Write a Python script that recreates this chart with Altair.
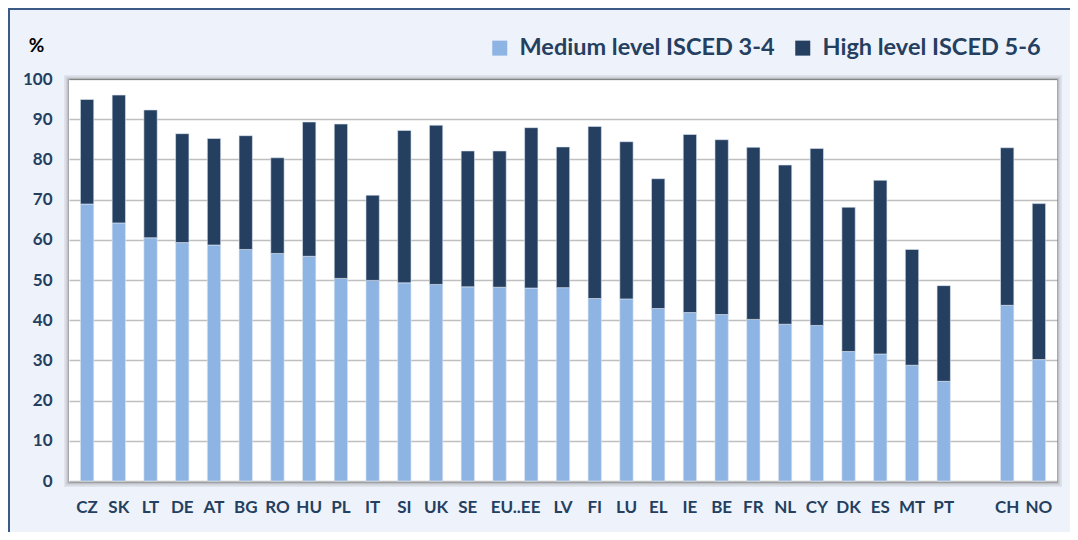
import altair as alt
import pandas as pd

countries = ["CZ", "SK", "LT", "DE", "AT", "BG", "RO", "HU", "PL", "IT", "SI", "UK", "SE",
             "EU", "EE", "LV", "FI", "LU", "EL", "IE", "BE", "FR", "NL", "CY", "DK", "ES",
             "MT", "PT", "CH", "NO"]
tick_labels = ["CZ", "SK", "LT", "DE", "AT", "BG", "RO", "HU", "PL", "IT", "SI", "UK", "SE",
               "EU..EE", "", "LV", "FI", "LU", "EL", "IE", "BE", "FR", "NL", "CY", "DK", "ES",
               "MT", "PT", "CH", "NO"]
medium = [68.9, 64.2, 60.5, 59.3, 58.7, 57.6, 56.6, 55.9, 50.4, 49.9, 49.3, 48.9, 48.3,
          48.2, 48.0, 48.1, 45.4, 45.3, 42.9, 41.9, 41.4, 40.2, 39.0, 38.7, 32.2, 31.6,
          28.8, 24.8, 43.7, 30.2]
high = [26.0, 31.8, 31.8, 27.1, 26.5, 28.3, 23.8, 33.4, 38.4, 21.2, 37.9, 39.6, 33.8,
        33.9, 39.9, 35.0, 42.8, 39.1, 32.3, 44.3, 43.5, 42.8, 39.6, 44.0, 35.9, 43.2,
        28.8, 23.8, 39.2, 38.8]
series = ["Medium level ISCED 3-4", "High level ISCED 5-6"]
colors = ["#8eb4e3", "#243f60"]

# domain with an empty slot between PT and CH
domain = countries[:28] + ["gap"] + countries[28:]

rows = []
for c, m, h in zip(countries, medium, high):
    rows.append({"country": c, "series": series[0], "value": m, "ord": 0})
    rows.append({"country": c, "series": series[1], "value": h, "ord": 1})
df = pd.DataFrame(rows)

label_expr = "''"
for c, t in reversed(list(zip(countries, tick_labels))):
    label_expr = f"datum.value == '{c}' ? '{t}' : ({label_expr})"

W, H = 988, 402
TXT = "#243f60"
FONT = "Lato"

bars = alt.Chart(df).mark_bar(stroke="#dce6f2", strokeWidth=0.6).encode(
    x=alt.X("country:N", scale=alt.Scale(domain=domain, paddingInner=0.58, paddingOuter=0.36),
            sort=domain,
            axis=alt.Axis(title=None, labelExpr=label_expr, labelAngle=0, labelPadding=18,
                          labelFontSize=17, labelFontWeight="bold", labelColor=TXT,
                          labelFont=FONT, domain=False, ticks=False, grid=False,
                          labelOverlap=False,
                          labelOffset={"condition": {"test": "datum.value == 'EU'",
                                                     "value": 16}, "value": 0})),
    y=alt.Y("value:Q", stack="zero", scale=alt.Scale(domain=[0, 100], nice=False),
            axis=alt.Axis(values=list(range(0, 101, 10)), title="%", titleAngle=0,
                          titleX=-33, titleY=-34, titleAlign="center", titleBaseline="middle",
                          titleFontSize=19, titleFontWeight="bold", titleColor="#000000",
                          titleFont=FONT,
                          labelFontSize=17, labelFontWeight="bold", labelColor=TXT,
                          labelFont=FONT, labelPadding=17,
                          domain=False, ticks=False, grid=True, gridColor="#bfbfbf",
                          gridWidth=1.5)),
    color=alt.Color("series:N", scale=alt.Scale(domain=series, range=colors),
                    legend=alt.Legend(title=None, orient="none", legendX=419, legendY=-43,
                                      direction="horizontal", symbolType="square",
                                      symbolSize=225, symbolStrokeWidth=0,
                                      labelFontSize=23.5, labelFontWeight="bold",
                                      labelColor=TXT, labelFont=FONT, columnPadding=16,
                                      labelOffset=8, labelLimit=0)),
    order=alt.Order("ord:Q", sort="ascending"),
)

deco = pd.DataFrame({"a": [0]})
frame = alt.Chart(deco).mark_rect(fill=None, stroke="#3b5b86", strokeWidth=2,
                                  clip=False).encode(
    x=alt.value(-60), x2=alt.value(W + 200), y=alt.value(-70), y2=alt.value(H + 200))

shadows = []
for k, op in [(5, 0.06), (4, 0.09), (3, 0.13), (2, 0.2), (1, 0.3)]:
    shadows.append(alt.Chart(deco).mark_rect(fill=None, stroke="#000000", strokeOpacity=op,
                                             strokeWidth=1, clip=False).encode(
        x=alt.value(-k + 0.5), x2=alt.value(W + k - 0.5),
        y=alt.value(-k + 1.5), y2=alt.value(H + k + 0.5)))

chart = alt.layer(frame, *shadows, bars).properties(
    width=W, height=H,
    autosize=alt.AutoSizeParams(type="none"),
    padding={"left": 61, "top": 71, "right": 13, "bottom": 51},
    background="#eef2fa",
).configure_view(stroke=None, fill="white")

chart.save("out.html", embed_options={"renderer": "svg", "actions": False})
